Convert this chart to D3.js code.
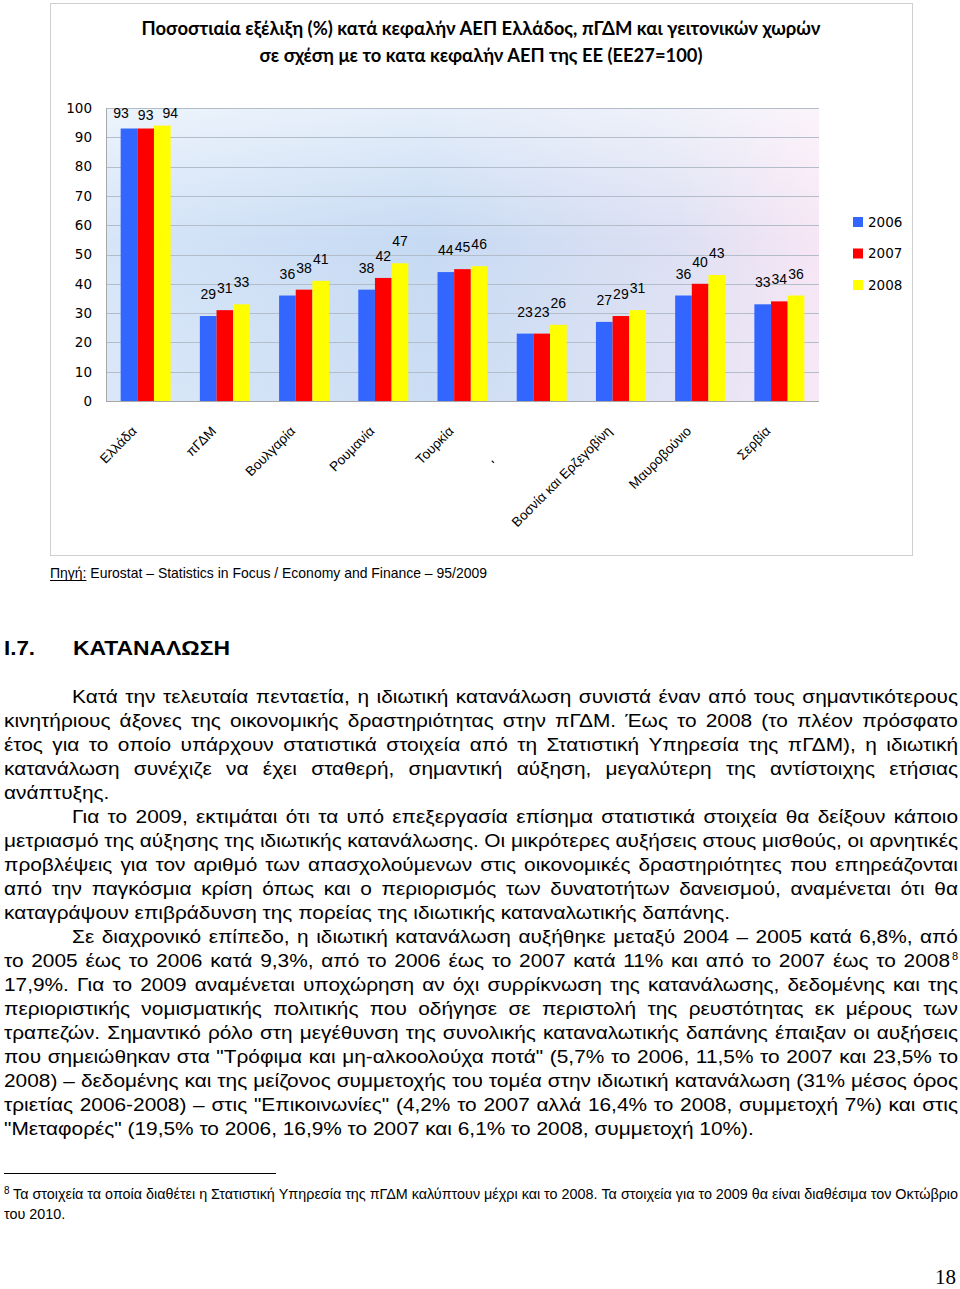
<!DOCTYPE html>
<html>
<head>
<meta charset="utf-8">
<script src="https://cdn.jsdelivr.net/npm/d3@7"></script>
<style>
  html, body { margin: 0; padding: 0; background: #ffffff; }
  svg { display: block; }
</style>
</head>
<body>
<script>
// ---------------- DATA ----------------
const NB = "\u00a0";
const categories = ["Ελλάδα", "πΓΔΜ", "Βουλγαρία", "Ρουμανία", "Τουρκία", "'" + NB.repeat(13),
  "Βοσνία και Ερζεγοβίνη", "Μαυροβούνιο", "Σερβία"];
const years = ["2006", "2007", "2008"];
const values2006 = [93, 29, 36, 38, 44, 23, 27, 36, 33];
const values2007 = [93, 31, 38, 42, 45, 23, 29, 40, 34];
const values2008 = [94, 33, 41, 47, 46, 26, 31, 43, 36];
const yTicks = [0, 10, 20, 30, 40, 50, 60, 70, 80, 90, 100];
const seriesColors = ["#3366ff", "#ff0000", "#ffff00"];

const titleLines = ["Ποσοστιαία εξέλιξη (%) κατά κεφαλήν ΑΕΠ Ελλάδος, πΓΔΜ και γειτονικών χωρών",
  "σε σχέση με το κατα κεφαλήν ΑΕΠ της ΕΕ  (ΕΕ27=100)"];
const sourceLabel = "Πηγή:";
const sourceText = "Eurostat – Statistics in Focus / Economy and Finance – 95/2009";
const headingNum = "I.7.";
const headingText = "ΚΑΤΑΝΑΛΩΣΗ";

// body lines: [text, indent, justify]
const bodyLines = [
  ["Κατά την τελευταία πενταετία, η ιδιωτική κατανάλωση συνιστά έναν από τους σημαντικότερους", true, true],
  ["κινητήριους άξονες της οικονομικής δραστηριότητας στην πΓΔΜ. Έως το 2008 (το πλέον πρόσφατο", false, true],
  ["έτος για το οποίο υπάρχουν στατιστικά στοιχεία από τη Στατιστική Υπηρεσία της πΓΔΜ), η ιδιωτική", false, true],
  ["κατανάλωση συνέχιζε να έχει σταθερή, σημαντική αύξηση, μεγαλύτερη της αντίστοιχης ετήσιας", false, true],
  ["ανάπτυξης.", false, false],
  ["Για το 2009, εκτιμάται ότι τα υπό επεξεργασία επίσημα στατιστικά στοιχεία θα δείξουν κάποιο", true, true],
  ["μετριασμό της αύξησης της ιδιωτικής κατανάλωσης. Οι μικρότερες αυξήσεις στους μισθούς, οι αρνητικές", false, true],
  ["προβλέψεις για τον αριθμό των απασχολούμενων στις οικονομικές δραστηριότητες που επηρεάζονται", false, true],
  ["από την παγκόσμια κρίση όπως και ο περιορισμός των δυνατοτήτων δανεισμού, αναμένεται ότι θα", false, true],
  ["καταγράψουν επιβράδυνση της πορείας της ιδιωτικής καταναλωτικής δαπάνης.", false, false],
  ["Σε διαχρονικό επίπεδο, η ιδιωτική κατανάλωση αυξήθηκε μεταξύ 2004 – 2005 κατά 6,8%, από", true, true],
  ["το 2005 έως το 2006 κατά 9,3%, από το 2006 έως το 2007 κατά 11% και από το 2007 έως το 2008", false, true],
  ["17,9%. Για το 2009 αναμένεται υποχώρηση αν όχι συρρίκνωση της κατανάλωσης, δεδομένης και της", false, true],
  ["περιοριστικής νομισματικής πολιτικής που οδήγησε σε περιστολή της ρευστότητας εκ μέρους των", false, true],
  ["τραπεζών. Σημαντικό ρόλο στη μεγέθυνση της συνολικής καταναλωτικής δαπάνης έπαιξαν οι αυξήσεις", false, true],
  ["που σημειώθηκαν στα \"Τρόφιμα και μη-αλκοολούχα ποτά\" (5,7% το 2006, 11,5% το 2007 και 23,5% το", false, true],
  ["2008) – δεδομένης και της μείζονος συμμετοχής του τομέα στην ιδιωτική κατανάλωση (31% μέσος όρος", false, true],
  ["τριετίας 2006-2008) – στις \"Επικοινωνίες\" (4,2% το 2007 αλλά 16,4% το 2008, συμμετοχή 7%) και στις", false, true],
  ["\"Μεταφορές\" (19,5% το 2006, 16,9% το 2007 και 6,1% το 2008, συμμετοχή 10%).", false, false]
];
const footnoteMark = "8";
const footnoteLines = [
  ["Τα στοιχεία τα οποία διαθέτει η Στατιστική Υπηρεσία της πΓΔΜ καλύπτουν μέχρι και το 2008. Τα στοιχεία για το 2009 θα είναι διαθέσιμα τον Οκτώβριο", true],
  ["του 2010.", false]
];
const pageNumber = "18";

// ---------------- SETUP ----------------
const W = 960, H = 1289;
const svg = d3.select("body").append("svg").attr("width", W).attr("height", H);
svg.append("rect").attr("width", W).attr("height", H).attr("fill", "#fff");

const SANS = "'Liberation Sans', Arial, sans-serif";
const CHARTSANS = "'DejaVu Sans', Verdana, sans-serif";

// chart frame
svg.append("rect").attr("x", 50.5).attr("y", 3.5).attr("width", 862).attr("height", 552)
  .attr("fill", "#fff").attr("stroke", "#cfcfcf").attr("stroke-width", 1);

// title
titleLines.forEach((t, i) => {
  const widths = [679, 443];
  svg.append("text").attr("x", 481).attr("y", 35 + i * 27)
    .attr("text-anchor", "middle")
    .style("font-family", "Lato, 'Open Sans', sans-serif").style("font-weight", "bold")
    .style("font-size", "18px").attr("fill", "#000")
    .attr("textLength", widths[i]).attr("lengthAdjust", "spacingAndGlyphs")
    .text(t);
});

// ---------------- PLOT ----------------
const plot = { left: 106, right: 819, top: 108, bottom: 401 };
const defs = svg.append("defs");
const gh = defs.append("linearGradient").attr("id", "bgH").attr("x1", 0).attr("y1", 0).attr("x2", 1).attr("y2", 0);
[[0, "#d6e5f8"], [0.45, "#c6daf3"], [0.8, "#dde0f3"], [1, "#f7e6f5"]].forEach(s =>
  gh.append("stop").attr("offset", s[0]).attr("stop-color", s[1]));
const gv = defs.append("linearGradient").attr("id", "bgV").attr("x1", 0).attr("y1", 0).attr("x2", 0).attr("y2", 1);
gv.append("stop").attr("offset", 0).attr("stop-color", "#fff").attr("stop-opacity", 0.55);
gv.append("stop").attr("offset", 0.45).attr("stop-color", "#fff").attr("stop-opacity", 0);
gv.append("stop").attr("offset", 1).attr("stop-color", "#fff").attr("stop-opacity", 0.1);

svg.append("rect").attr("x", plot.left).attr("y", plot.top)
  .attr("width", plot.right - plot.left).attr("height", plot.bottom - plot.top).attr("fill", "url(#bgH)");
svg.append("rect").attr("x", plot.left).attr("y", plot.top)
  .attr("width", plot.right - plot.left).attr("height", plot.bottom - plot.top).attr("fill", "url(#bgV)");

const y = d3.scaleLinear().domain([0, 100]).range([plot.bottom, plot.top]);
const x0 = d3.scaleBand().domain(categories).range([plot.left, plot.right]).paddingInner(0.369).paddingOuter(0.185);
const x1 = d3.scaleBand().domain(years).range([0, x0.bandwidth()]).padding(0);

// gridlines
svg.append("g").selectAll("line").data(yTicks.filter(v => v > 0)).join("line")
  .attr("x1", plot.left).attr("x2", plot.right)
  .attr("y1", d => Math.round(y(d)) + 0.5).attr("y2", d => Math.round(y(d)) + 0.5)
  .attr("stroke", "#b3bdc9").attr("stroke-width", 1);

// y axis
const yAxis = svg.append("g").attr("transform", `translate(${plot.left},0)`)
  .call(d3.axisLeft(y).tickValues(yTicks).tickSize(0).tickPadding(14));
yAxis.select(".domain").remove();
yAxis.selectAll("text").style("font-family", CHARTSANS).style("font-size", "13.5px").attr("fill", "#000");

// axis lines
svg.append("line").attr("x1", plot.left + 0.5).attr("x2", plot.left + 0.5).attr("y1", plot.top).attr("y2", plot.bottom)
  .attr("stroke", "#a8a8a8");
svg.append("line").attr("x1", plot.left).attr("x2", plot.right).attr("y1", plot.bottom + 0.5).attr("y2", plot.bottom + 0.5)
  .attr("stroke", "#a8a8a8");

// bars
const seriesValues = [values2006, values2007, values2008];
const rows = categories.map((c, i) => ({ cat: c, vals: years.map((yr, k) => ({ yr, k, v: seriesValues[k][i] })) }));
const groups = svg.append("g").selectAll("g").data(rows).join("g")
  .attr("transform", d => `translate(${x0(d.cat)},0)`);
groups.selectAll("rect").data(d => d.vals).join("rect")
  .attr("x", d => x1(d.yr)).attr("width", x1.bandwidth())
  .attr("y", d => y(d.v)).attr("height", d => y(0) - y(d.v))
  .attr("fill", d => seriesColors[d.k]);
const labelTop = 113;
groups.selectAll("text").data(d => d.vals).join("text")
  .attr("x", d => x1(d.yr) + x1.bandwidth() / 2 + (y(d.v) - 22 < labelTop ? (d.k - 1) * 8 : 0))
  .attr("y", d => Math.max(y(d.v) - 22, labelTop + (d.k === 1 && y(d.v) - 22 < labelTop ? 2 : 0)) + 5)
  .attr("text-anchor", "middle")
  .style("font-family", SANS).style("font-size", "14px").attr("fill", "#000")
  .text(d => d.v);

// x axis labels
const xAxis = svg.append("g").attr("transform", `translate(0,${plot.bottom})`)
  .call(d3.axisBottom(x0).tickSize(0));
xAxis.select(".domain").remove();
xAxis.selectAll(".tick text")
  .attr("text-anchor", "end")
  .attr("x", 0).attr("y", 0).attr("dy", 0)
  .attr("transform", "translate(-8,31) rotate(-45)")
  .style("font-family", SANS).style("font-size", "13.5px").attr("fill", "#000");

// legend
const legend = svg.append("g").selectAll("g").data(years).join("g")
  .attr("transform", (d, i) => `translate(853,${222 + i * 31.5})`);
legend.append("rect").attr("x", 0).attr("y", -5).attr("width", 10).attr("height", 10)
  .attr("fill", (d, i) => seriesColors[i]);
legend.append("text").attr("x", 15).attr("y", 0).attr("dy", "0.36em")
  .style("font-family", CHARTSANS).style("font-size", "13.5px").attr("fill", "#000").text(d => d);

// ---------------- TEXT HELPERS ----------------
function measure(str, size, weight, family) {
  const t = svg.append("text").style("font-family", family || SANS).style("font-size", size + "px")
    .style("font-weight", weight || "normal").text(str);
  const w = t.node().getComputedTextLength();
  t.remove();
  return w;
}
function layoutLine(parent, text, x0p, x1p, baseline, size, scale, justify) {
  const words = text.split(" ");
  const nodes = words.map(w => parent.append("text").attr("y", baseline)
    .style("font-family", SANS).style("font-size", size + "px").attr("fill", "#000").text(w));
  const widths = nodes.map(n => n.node().getComputedTextLength() * scale);
  nodes.forEach((n, i) => n.attr("textLength", widths[i]).attr("lengthAdjust", "spacingAndGlyphs"));
  const spaceW = measure("a a", size) - measure("aa", size);
  const total = d3.sum(widths);
  const gap = justify && words.length > 1 ? (x1p - x0p - total) / (words.length - 1) : spaceW * scale;
  let x = x0p;
  nodes.forEach((n, i) => { n.attr("x", x); x += widths[i] + gap; });
  return x - gap;
}

// source line
const srcSize = 15;
const srcNatural = measure(sourceLabel + " " + sourceText, srcSize);
const srcScale = (487 - 50) / srcNatural;
const srcG = svg.append("g");
const srcLabelW = measure(sourceLabel, srcSize) * srcScale;
srcG.append("text").attr("x", 50).attr("y", 578).style("font-family", SANS).style("font-size", srcSize + "px")
  .attr("textLength", srcLabelW).attr("lengthAdjust", "spacingAndGlyphs").text(sourceLabel);
srcG.append("line").attr("x1", 50).attr("x2", 50 + srcLabelW).attr("y1", 580.5).attr("y2", 580.5)
  .attr("stroke", "#000").attr("stroke-width", 1);
layoutLine(srcG, sourceText, 50 + srcLabelW + (measure("a a", srcSize) - measure("aa", srcSize)) * srcScale,
  487, 578, srcSize, srcScale, true);

// heading
svg.append("text").attr("x", 4).attr("y", 655).style("font-family", SANS).style("font-weight", "bold")
  .style("font-size", "20px").attr("textLength", 31).attr("lengthAdjust", "spacingAndGlyphs").text(headingNum);
svg.append("text").attr("x", 73).attr("y", 655).style("font-family", SANS).style("font-weight", "bold")
  .style("font-size", "20px").attr("textLength", 157).attr("lengthAdjust", "spacingAndGlyphs").text(headingText);

// body
const bodySize = 17.5;
const refLine = bodyLines[9][0];
const bodyScale = (730 - 4) / measure(refLine, bodySize);
const bodyG = svg.append("g");
bodyLines.forEach((ln, i) => {
  const xs = ln[1] ? 72 : 4;
  const xe = i === 11 ? 950 : 958;
  const end = layoutLine(bodyG, ln[0], xs, xe, 703 + i * 24, bodySize, bodyScale, ln[2]);
  if (i === 11) {
    bodyG.append("text").attr("x", end + 2).attr("y", 703 + i * 24 - 7)
      .style("font-family", SANS).style("font-size", "11px").text(footnoteMark);
  }
});

// footnote
svg.append("line").attr("x1", 4).attr("x2", 276).attr("y1", 1173.5).attr("y2", 1173.5).attr("stroke", "#000");
svg.append("text").attr("x", 4).attr("y", 1194).style("font-family", SANS).style("font-size", "10px").text(footnoteMark);
const fnG = svg.append("g");
const fnSize = 14.5;
const fnScale = (958 - 13) / measure(footnoteLines[0][0], fnSize);
footnoteLines.forEach((ln, i) => {
  layoutLine(fnG, ln[0], i === 0 ? 13 : 4, 958, 1199 + i * 20, fnSize, fnScale, ln[1]);
});

// page number
svg.append("text").attr("x", 956).attr("y", 1284).attr("text-anchor", "end")
  .style("font-family", "'Liberation Serif', 'Times New Roman', serif").style("font-size", "21px").text(pageNumber);
</script>
</body>
</html>
